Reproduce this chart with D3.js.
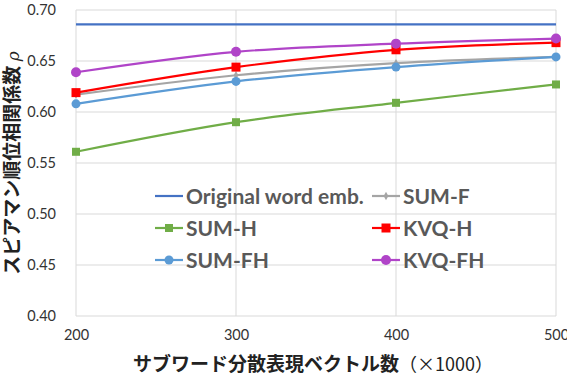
<!DOCTYPE html>
<html>
<head>
<meta charset="utf-8">
<script src="https://cdn.jsdelivr.net/npm/d3@7"></script>
<style>
  body { margin: 0; background: #fff; }
  svg text { font-family: Lato, "Noto Sans CJK JP", sans-serif; }
</style>
</head>
<body>
<div id="chart"></div>
<script>
const w = 567, h = 382;
const padding = { top: 10, right: 11, bottom: 66, left: 76 };

const xValues = [200, 300, 400, 500];
const yTicks = [0.40, 0.45, 0.50, 0.55, 0.60, 0.65, 0.70];
const seriesNames = ["Original word emb.", "SUM-F", "SUM-H", "KVQ-H", "SUM-FH", "KVQ-FH"];
const original = [0.686, 0.686, 0.686, 0.686];
const sumF = [0.617, 0.636, 0.648, 0.654];
const sumH = [0.561, 0.590, 0.609, 0.627];
const kvqH = [0.619, 0.644, 0.661, 0.668];
const sumFH = [0.608, 0.630, 0.644, 0.654];
const kvqFH = [0.639, 0.659, 0.667, 0.672];

const series = [
  { name: seriesNames[0], values: original, color: "#4472C4", marker: null },
  { name: seriesNames[1], values: sumF, color: "#A5A5A5", marker: "diamond" },
  { name: seriesNames[2], values: sumH, color: "#70AD47", marker: "square" },
  { name: seriesNames[3], values: kvqH, color: "#FF0000", marker: "bigsquare" },
  { name: seriesNames[4], values: sumFH, color: "#5B9BD5", marker: "circle" },
  { name: seriesNames[5], values: kvqFH, color: "#B044C8", marker: "bigcircle" },
];
// draw order (back to front) roughly as in the picture
const drawOrder = [0, 2, 1, 4, 3, 5];

const svg = d3.select("#chart").append("svg").attr("width", w).attr("height", h);

const x = d3.scaleLinear().domain([200, 500]).range([padding.left, w - padding.right]);
const y = d3.scaleLinear().domain([0.40, 0.70]).range([h - padding.bottom, padding.top]);

// grid
svg.append("g")
  .selectAll("line")
  .data(yTicks)
  .join("line")
  .attr("x1", x(200)).attr("x2", x(500))
  .attr("y1", d => y(d)).attr("y2", d => y(d))
  .attr("stroke", "#d9d9d9").attr("stroke-width", 1);
svg.append("g")
  .selectAll("line")
  .data(xValues)
  .join("line")
  .attr("x1", d => x(d)).attr("x2", d => x(d))
  .attr("y1", y(0.40)).attr("y2", y(0.70))
  .attr("stroke", "#d9d9d9").attr("stroke-width", 1);

// axes labels
const yAxis = svg.append("g")
  .attr("transform", `translate(${padding.left},0)`)
  .call(d3.axisLeft(y).tickValues(yTicks).tickFormat(d3.format(".2f")).tickSize(0).tickPadding(20));
yAxis.select(".domain").remove();
yAxis.selectAll("text").attr("font-size", 14.5).attr("fill", "#333");

const xAxis = svg.append("g")
  .attr("transform", `translate(0,${h - padding.bottom})`)
  .call(d3.axisBottom(x).tickValues(xValues).tickFormat(d3.format("d")).tickSize(0).tickPadding(14));
xAxis.select(".domain").remove();
xAxis.selectAll("text").attr("font-size", 14.5).attr("fill", "#333");

// titles
const yTitle = svg.append("text")
  .attr("transform", `translate(19,${(y(0.40) + y(0.70)) / 2}) rotate(-90)`)
  .attr("text-anchor", "middle")
  .attr("font-size", 19)
  .attr("fill", "#222");
yTitle.append("tspan").attr("font-weight", "bold").text("スピアマン順位相関係数 ");
yTitle.append("tspan").attr("font-style", "italic").attr("font-family", "DejaVu Serif").attr("font-size", 17).text("ρ");

const xTitle = svg.append("text")
  .attr("x", 133).attr("y", 371)
  .attr("font-size", 19)
  .attr("fill", "#222");
xTitle.append("tspan").attr("font-weight", "bold").text("サブワード分散表現ベクトル数");
xTitle.append("tspan").attr("font-family", "'Noto Sans CJK JP', sans-serif").attr("font-size", 18).text("（×1000）");

// lines
const line = d3.line()
  .x((d, i) => x(xValues[i]))
  .y(d => y(d))
  .curve(d3.curveCatmullRom.alpha(0));

function drawMarker(g, type, color, cx, cy) {
  if (type === "square") {
    g.append("rect").attr("x", cx - 4).attr("y", cy - 4).attr("width", 8).attr("height", 8).attr("fill", color);
  } else if (type === "bigsquare") {
    g.append("rect").attr("x", cx - 4.5).attr("y", cy - 4.5).attr("width", 9).attr("height", 9).attr("fill", color);
  } else if (type === "circle") {
    g.append("circle").attr("cx", cx).attr("cy", cy).attr("r", 4.5).attr("fill", color);
  } else if (type === "bigcircle") {
    g.append("circle").attr("cx", cx).attr("cy", cy).attr("r", 5).attr("fill", color);
  } else if (type === "diamond") {
    g.append("path").attr("d", d3.symbol(d3.symbolDiamond, 20)()).attr("transform", `translate(${cx},${cy})`).attr("fill", color);
  }
}

drawOrder.forEach(i => {
  const s = series[i];
  const g = svg.append("g");
  g.append("path")
    .datum(s.values)
    .attr("d", line)
    .attr("fill", "none")
    .attr("stroke", s.color)
    .attr("stroke-width", 2.2);
  if (s.marker) s.values.forEach((v, j) => drawMarker(g, s.marker, s.color, x(xValues[j]), y(v)));
});

// legend
const legendCols = [155, 372];
const legendRows = [196, 228, 260];
const legend = svg.append("g");
series.forEach((s, i) => {
  const lx = legendCols[i % 2], ly = legendRows[Math.floor(i / 2)];
  legend.append("line")
    .attr("x1", lx).attr("x2", lx + 28).attr("y1", ly).attr("y2", ly)
    .attr("stroke", s.color).attr("stroke-width", 2.2);
  if (s.marker) drawMarker(legend, s.marker, s.color, lx + 14, ly);
  legend.append("text")
    .attr("x", lx + 31).attr("y", ly + 7.5)
    .attr("font-size", 21).attr("font-weight", "bold").attr("fill", "#595959")
    .text(s.name);
});
</script>
</body>
</html>
